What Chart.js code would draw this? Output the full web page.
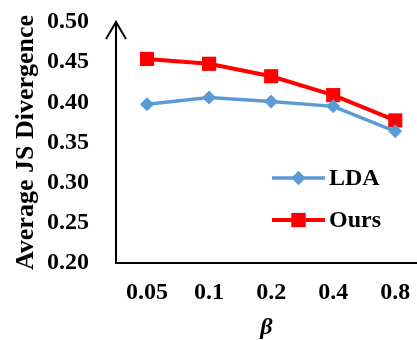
<!DOCTYPE html>
<html>
<head>
<meta charset="utf-8">
<script src="https://cdn.jsdelivr.net/npm/chart.js@4"></script>
<style>
  html, body { margin: 0; padding: 0; background: #fff; }
  #wrap { width: 417px; height: 340px; }
</style>
</head>
<body>
<div id="wrap"><canvas id="jsChart" width="417" height="340"></canvas></div>
<script>
// values
const betaLabels = ['0.05', '0.1', '0.2', '0.4', '0.8'];
const ldaValues = [0.3975, 0.406, 0.401, 0.395, 0.364];
const oursValues = [0.454, 0.448, 0.4325, 0.409, 0.3775];
const yTicks = [0.20, 0.25, 0.30, 0.35, 0.40, 0.45, 0.50];

const serif = '"Liberation Serif", "Times New Roman", serif';

function toPoints(values) {
    return values.map((v, i) => ({ x: i, y: v }));
}

// arrow head on top of the y axis
const axisArrow = {
    id: 'axisArrow',
    afterDraw(chart) {
        const ctx = chart.ctx;
        const x = chart.chartArea.left;
        const top = chart.chartArea.top;
        ctx.save();
        ctx.strokeStyle = '#000';
        ctx.lineWidth = 2;
        ctx.beginPath();
        ctx.moveTo(x - 10, top + 17);
        ctx.lineTo(x, top);
        ctx.lineTo(x + 10, top + 17);
        ctx.stroke();
        ctx.restore();
    }
};

// legend sitting inside the plot, like the original
const innerLegend = {
    id: 'innerLegend',
    afterDraw(chart) {
        const ctx = chart.ctx;
        const area = chart.chartArea;
        const x0 = area.left + 156;
        const x1 = area.left + 209;
        const xm = (x0 + x1) / 2;
        const rows = [178, 220];
        chart.data.datasets.forEach((ds, i) => {
            const y = rows[i];
            ctx.save();
            ctx.strokeStyle = ds.borderColor;
            ctx.lineWidth = ds.borderWidth;
            ctx.beginPath();
            ctx.moveTo(x0, y);
            ctx.lineTo(x1, y);
            ctx.stroke();
            Chart.helpers.drawPoint(ctx, {
                pointStyle: ds.pointStyle,
                radius: ds.pointRadius,
                borderWidth: 0,
                rotation: 0
            }, xm, y);
            ctx.fillStyle = ds.pointBackgroundColor;
            ctx.fill();
            ctx.fillStyle = '#000';
            ctx.font = 'bold 24px ' + serif;
            ctx.textAlign = 'left';
            ctx.textBaseline = 'middle';
            ctx.fillText(ds.label, x1 + 4, y + 1);
            ctx.restore();
        });
    }
};

const ctx = document.getElementById('jsChart').getContext('2d');
const jsChart = new Chart(ctx, {
    type: 'line',
    data: {
        datasets: [
            {
                label: 'LDA',
                data: toPoints(ldaValues),
                borderColor: '#5B9BD5',
                backgroundColor: '#5B9BD5',
                pointBackgroundColor: '#5B9BD5',
                pointBorderColor: '#5B9BD5',
                borderWidth: 3.5,
                pointStyle: 'rectRot',
                pointRadius: 7,
                pointBorderWidth: 0,
                tension: 0,
                clip: false
            },
            {
                label: 'Ours',
                data: toPoints(oursValues),
                borderColor: '#FF0000',
                backgroundColor: '#FF0000',
                pointBackgroundColor: '#FF0000',
                pointBorderColor: '#FF0000',
                borderWidth: 4,
                pointStyle: 'rect',
                pointRadius: 10,
                pointBorderWidth: 0,
                tension: 0,
                clip: false
            }
        ]
    },
    options: {
        responsive: false,
        animation: false,
        layout: { autoPadding: false, padding: { top: 22, right: 0, left: 0, bottom: 0 } },
        plugins: {
            legend: { display: false },
            tooltip: { enabled: false }
        },
        scales: {
            x: {
                type: 'linear',
                min: -0.5,
                max: 4.35,
                afterFit(scale) {
                    scale.height = 77;
                    scale.paddingLeft = 0;
                    scale.paddingRight = 0;
                },
                afterBuildTicks(scale) {
                    scale.ticks = betaLabels.map((l, i) => ({ value: i }));
                },
                grid: { display: false, drawTicks: false },
                border: { display: true, color: '#000', width: 2 },
                ticks: {
                    padding: 15,
                    color: '#000',
                    maxRotation: 0,
                    font: { family: serif, size: 24, weight: 'bold' },
                    callback: (v) => betaLabels[v]
                },
                title: {
                    display: true,
                    text: 'β',
                    color: '#000',
                    font: { family: serif, size: 24, weight: 'bold', style: 'italic', lineHeight: 1 },
                    padding: { top: 0, bottom: 0 }
                }
            },
            y: {
                min: 0.20,
                max: 0.50,
                afterFit(scale) {
                    scale.width = 116;
                    scale.paddingTop = 0;
                    scale.paddingBottom = 0;
                },
                afterBuildTicks(scale) {
                    scale.ticks = yTicks.map(v => ({ value: v }));
                },
                grid: { display: false, drawTicks: false },
                border: { display: true, color: '#000', width: 2 },
                ticks: {
                    padding: 27,
                    color: '#000',
                    font: { family: serif, size: 24, weight: 'bold' },
                    callback: (v) => v.toFixed(2)
                },
                title: {
                    display: true,
                    text: 'Average JS Divergence',
                    color: '#000',
                    font: { family: serif, size: 26, weight: 'bold' },
                    padding: { top: 11, bottom: 0 }
                }
            }
        }
    },
    plugins: [axisArrow, innerLegend]
});
</script>
</body>
</html>
